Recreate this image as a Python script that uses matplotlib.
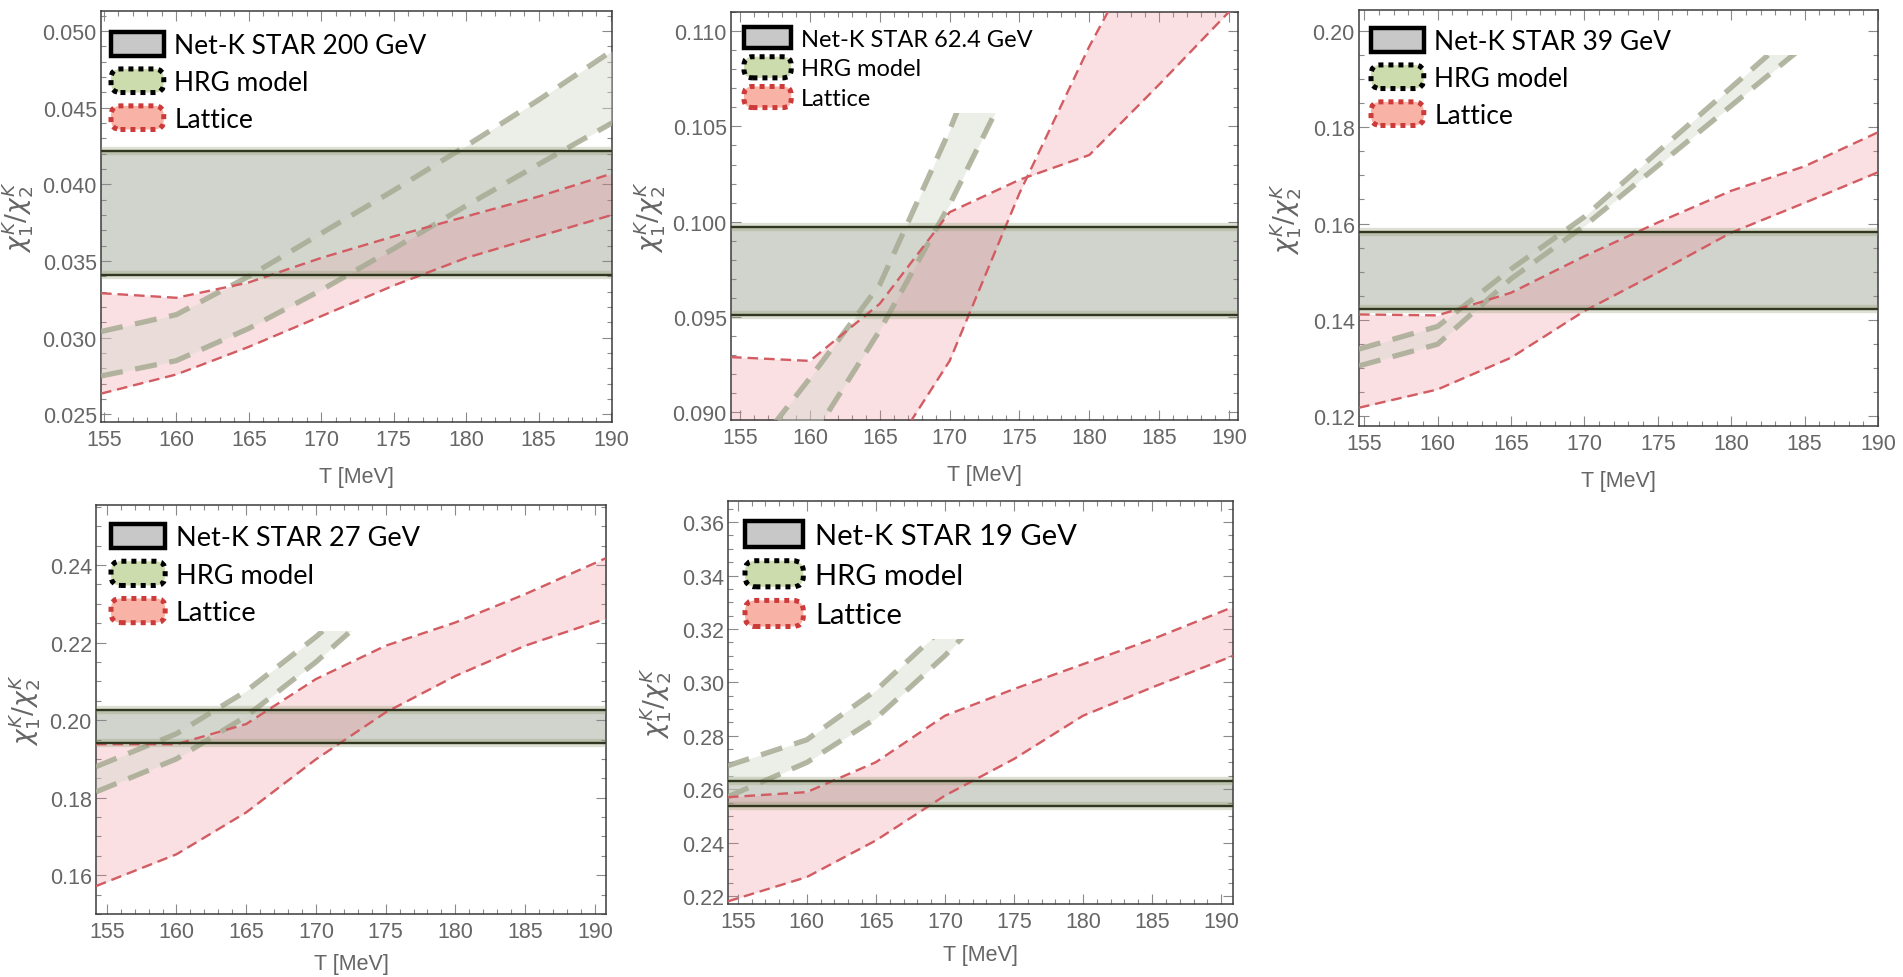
import matplotlib
matplotlib.use("Agg")
import numpy as np
import matplotlib.pyplot as plt
from matplotlib.patches import Patch, FancyBboxPatch, Rectangle
from matplotlib.legend_handler import HandlerPatch
from matplotlib.ticker import MultipleLocator

nan = np.nan

# ---- data ---------------------------------------------------------------
T_MAJOR = [155, 160, 165, 170, 175, 180, 185, 190]

# 200 GeV
t_200 = [154.8, 160, 165, 170, 175, 180, 185, 190.07]
star_200 = [0.0341, 0.0422]
hrg_hi_200 = [0.0304, 0.0315, 0.0340, 0.0368, 0.0396, 0.0425, 0.0455, 0.0487]
hrg_lo_200 = [0.0275, 0.0285, 0.0306, 0.0331, 0.0358, 0.0386, 0.0413, 0.0440]
lat_a_200 = [0.0329, 0.0326, 0.0336, 0.0352, 0.0366, 0.0379, 0.0392, 0.0407]
lat_b_200 = [0.02635, 0.0276, 0.0294, 0.0314, 0.0334, 0.0352, 0.0366, 0.0380]
yticks_200 = [0.025, 0.030, 0.035, 0.040, 0.045, 0.050]

# 62.4 GeV
t_62 = [154.35, 160, 165, 170, 175, 180, 185, 190.64]
star_62 = [0.0951, 0.0997]
hrg_hi_62 = [0.0865, 0.0918, 0.0967, 0.1048, 0.1140, nan, nan, nan]
hrg_lo_62 = [0.0825, 0.0885, 0.0943, 0.1009, 0.1083, nan, nan, nan]
lat_a_62 = [0.0929, 0.0927, 0.0957, 0.1005, 0.1022, 0.1035, 0.1072, 0.1115]
lat_b_62 = [0.0760, 0.0810, 0.0870, 0.0927, 0.1015, 0.1092, 0.1160, 0.1225]
yticks_62 = [0.090, 0.095, 0.100, 0.105, 0.110]

# 39 GeV
t_39 = [154.65, 160, 165, 170, 175, 180, 185, 189.95]
star_39 = [0.1423, 0.1582]
hrg_hi_39 = [0.1339, 0.1386, 0.1505, 0.1614, 0.1749, 0.1883, 0.2017, nan]
hrg_lo_39 = [0.1304, 0.1349, 0.1485, 0.1595, 0.1720, 0.1845, 0.1970, nan]
lat_a_39 = [0.1411, 0.1409, 0.1456, 0.1532, 0.1602, 0.1668, 0.1719, 0.1789]
lat_b_39 = [0.1217, 0.1255, 0.1321, 0.1418, 0.1498, 0.1581, 0.1643, 0.1706]
yticks_39 = [0.12, 0.14, 0.16, 0.18, 0.20]

# 27 GeV
t_27 = [154.23, 160, 165, 170, 175, 180, 185, 190.8]
star_27 = [0.1942, 0.2026]
hrg_hi_27 = [0.1880, 0.1965, 0.2075, 0.2215, 0.2370, nan, nan, nan]
hrg_lo_27 = [0.1815, 0.1900, 0.2010, 0.2150, 0.2310, nan, nan, nan]
lat_a_27 = [0.1938, 0.1938, 0.1990, 0.2106, 0.2192, 0.2252, 0.2325, 0.2418]
lat_b_27 = [0.1572, 0.1654, 0.1762, 0.1899, 0.2020, 0.2114, 0.2192, 0.2262]
yticks_27 = [0.16, 0.18, 0.20, 0.22, 0.24]

# 19 GeV
t_19 = [154.29, 160, 165, 170, 175, 180, 185, 190.86]
star_19 = [0.2536, 0.2632]
hrg_hi_19 = [0.2688, 0.2785, 0.2970, 0.3210, 0.3500, nan, nan, nan]
hrg_lo_19 = [0.2572, 0.2700, 0.2865, 0.3100, 0.3370, nan, nan, nan]
lat_a_19 = [0.2570, 0.2589, 0.2701, 0.2875, 0.2975, 0.3068, 0.3161, 0.3282]
lat_b_19 = [0.2180, 0.2271, 0.2408, 0.2576, 0.2713, 0.2875, 0.2981, 0.3099]
yticks_19 = [0.22, 0.24, 0.26, 0.28, 0.30, 0.32, 0.34, 0.36]

energies = ["200", "62.4", "39", "27", "19"]

# ---- layout (pixels in a 1903x978 canvas) ----------------------------------
W, H = 1903, 978
ax_px = [  # left, top, right, bottom
    (101, 12, 612, 423),
    (731, 13, 1238, 421),
    (1359, 11, 1878, 427),
    (96, 506, 606, 915),
    (728, 502, 1233, 905),
]
ylims = [(0.0245, 0.0513), (0.0896, 0.1110), (0.1179, 0.2044), (0.1500, 0.2555), (0.2170, 0.3679)]
ytick_fmt = ["%.3f", "%.3f", "%.2f", "%.2f", "%.2f"]
yminor = [0.001, 0.001, 0.005, 0.005, 0.005]
hrg_cap = [None, 0.1057, 0.195, 0.2231, 0.3164]
legend_fs = [19, 17, 19, 19.5, 21]
legend_sp = [0.42, 0.3, 0.42, 0.4, 0.4]
ylabel_dx = [-66, -64, -56, -54, -55]
xlabel_dy = [44, 44, 44, 39, 40]
legend_off = [(10, 21), (13, 15), (12, 18), (15, 19), (17, 20)]

STAR_FILL = "#a4a89c"
STAR_EDGE = "#30361f"
STAR_GLOW = "#8f9b6c"
LAT_FILL = "#f07f8c"
LAT_LINE = "#d25c62"
HRG_FILL = "#d6dace"
HRG_LINE = "#a7ab93"
TICK_GRAY = "#8a8a8a"
LABEL_GRAY = "#666666"

plt.rcParams["font.family"] = ["Liberation Sans", "DejaVu Sans"]


def square_patch(legend, orig_handle, xdescent, ydescent, width, height, fontsize):
    return FancyBboxPatch((-xdescent, -ydescent), width, height, boxstyle="square,pad=0")


def round_patch(legend, orig_handle, xdescent, ydescent, width, height, fontsize):
    return FancyBboxPatch((-xdescent, -ydescent), width, height,
                          boxstyle="round,pad=0,rounding_size=%g" % (height * 0.4))


def draw_panel(ax, t, star, hrg_hi, hrg_lo, lat_a, lat_b, yticks, i):
    xlim = (t[0], t[-1])
    ylim = ylims[i]
    ax.set_xlim(*xlim)
    ax.set_ylim(*ylim)

    ax.axhspan(star[0], star[1], color=STAR_FILL, alpha=0.5, lw=0, zorder=1)

    ax.fill_between(t, lat_a, lat_b, color=LAT_FILL, alpha=0.24, lw=0, zorder=2)
    for y in (lat_a, lat_b):
        ax.plot(t, y, color=LAT_LINE, lw=1.7, dashes=(4.5, 2.5), zorder=6)

    arts = [ax.fill_between(t, hrg_hi, hrg_lo, color=HRG_FILL, alpha=0.45, lw=0, zorder=3)]
    for y in (hrg_hi, hrg_lo):
        arts += ax.plot(t, y, color=HRG_LINE, lw=3.8, alpha=0.85, dashes=(4.2, 2.4),
                        solid_capstyle="butt", zorder=4)
    if hrg_cap[i] is not None:
        # the HRG band in the source plot is cut off at a fixed height
        clip = Rectangle((xlim[0], ylim[0]), xlim[1] - xlim[0], hrg_cap[i] - ylim[0],
                         transform=ax.transData)
        for a in arts:
            a.set_clip_path(clip)

    for v in star:
        ax.axhline(v, color=STAR_GLOW, lw=6, alpha=0.3, zorder=5)
        ax.axhline(v, color=STAR_EDGE, lw=1.7, zorder=7)

    ax.set_xticks(T_MAJOR)
    ax.xaxis.set_minor_locator(MultipleLocator(1))
    ax.set_yticks(yticks)
    ax.set_yticklabels([ytick_fmt[i] % v for v in yticks])
    ax.yaxis.set_minor_locator(MultipleLocator(yminor[i]))
    ax.tick_params(which="both", direction="in", top=True, right=True, color=TICK_GRAY,
                   labelcolor=LABEL_GRAY, labelsize=15.5, width=0.8)
    ax.tick_params(which="major", length=7)
    ax.tick_params(which="minor", length=3.5)
    ax.tick_params(axis="x", pad=5)
    ax.tick_params(axis="y", pad=3)
    for s in ax.spines.values():
        s.set_color("#3c3c3c")
        s.set_linewidth(1.1)

    l, tp, r, b = ax_px[i]
    wpx, hpx = r - l, b - tp
    ax.set_xlabel("T [MeV]", fontsize=15.5, color=LABEL_GRAY)
    ax.xaxis.set_label_coords(0.5, -xlabel_dy[i] / hpx)
    ax.set_ylabel(r"$\chi_1^K/\chi_2^K$", fontsize=19, color=LABEL_GRAY)
    ax.yaxis.set_label_coords(ylabel_dx[i] / wpx, 0.5)

    h_star = Patch(facecolor="#c8c8c8", edgecolor="black", lw=3.2)
    h_hrg = Patch(facecolor="#cddcad", edgecolor="black", lw=3.6, linestyle=(0, (1, 1)))
    h_lat = Patch(facecolor="#f9b3a6", edgecolor="#cc3a3a", lw=3.6, linestyle=(0, (1, 1)))
    dx, dy = legend_off[i]
    ax.legend([h_star, h_hrg, h_lat],
              ["Net-K STAR %s GeV" % energies[i], "HRG model", "Lattice"],
              handler_map={h_star: HandlerPatch(patch_func=square_patch),
                           h_hrg: HandlerPatch(patch_func=round_patch),
                           h_lat: HandlerPatch(patch_func=round_patch)},
              loc="upper left", bbox_to_anchor=(dx / wpx, 1 - dy / hpx),
              frameon=False, borderpad=0, borderaxespad=0,
              handlelength=2.0, handleheight=1.0, handletextpad=0.4,
              labelspacing=legend_sp[i], prop={"family": ["Lato", "DejaVu Sans"], "size": legend_fs[i]})


fig = plt.figure(figsize=(W / 100, H / 100), dpi=100)
panels = [
    (t_200, star_200, hrg_hi_200, hrg_lo_200, lat_a_200, lat_b_200, yticks_200),
    (t_62, star_62, hrg_hi_62, hrg_lo_62, lat_a_62, lat_b_62, yticks_62),
    (t_39, star_39, hrg_hi_39, hrg_lo_39, lat_a_39, lat_b_39, yticks_39),
    (t_27, star_27, hrg_hi_27, hrg_lo_27, lat_a_27, lat_b_27, yticks_27),
    (t_19, star_19, hrg_hi_19, hrg_lo_19, lat_a_19, lat_b_19, yticks_19),
]
for i, p in enumerate(panels):
    l, tp, r, b = ax_px[i]
    ax = fig.add_axes([l / W, 1 - b / H, (r - l) / W, (b - tp) / H])
    draw_panel(ax, *p, i)

fig.savefig("out.png", dpi=100, facecolor="white")
